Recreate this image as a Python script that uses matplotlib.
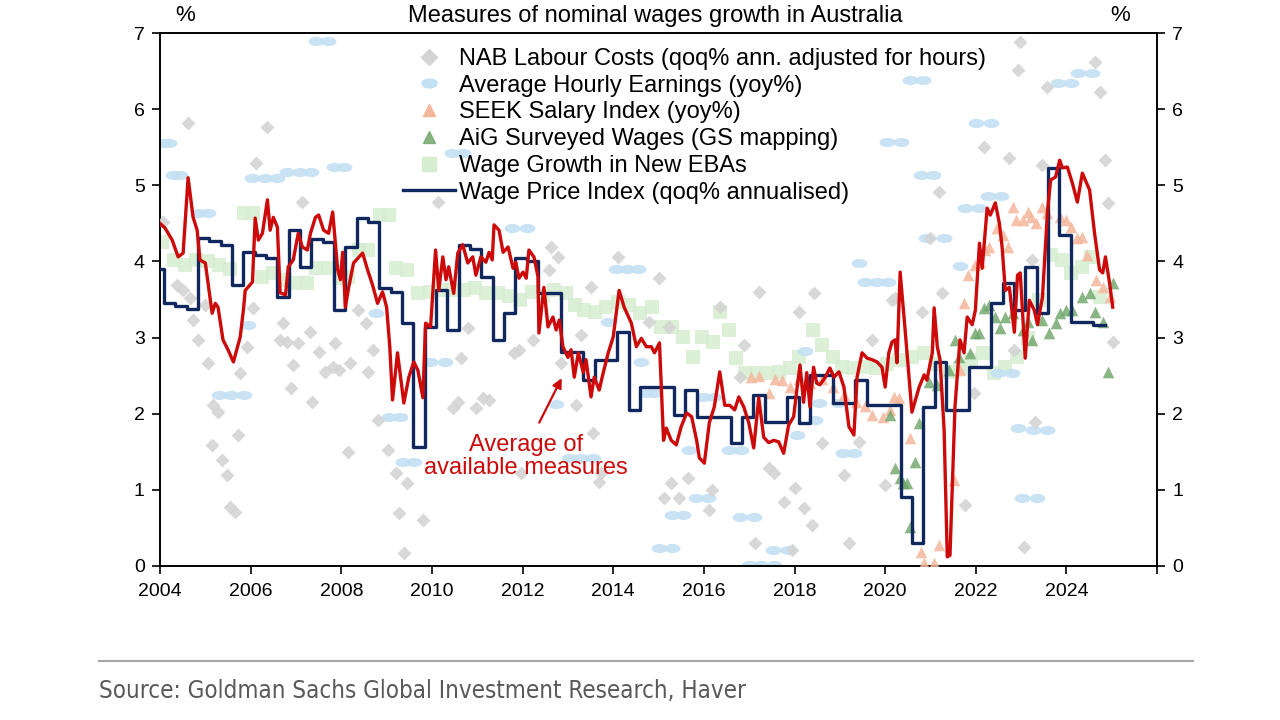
import numpy as np
import matplotlib
matplotlib.use("Agg")
import matplotlib.pyplot as plt
from matplotlib.lines import Line2D
from matplotlib.path import Path
from matplotlib.transforms import Affine2D

plt.rcParams['font.family'] = ['Liberation Sans', 'DejaVu Sans']

# Wage Price Index (qoq% annualised), quarterly, stepped
wpi_start = 2003.84
wpi_vals = [3.90, 3.45, 3.42, 3.37, 4.31, 4.27, 4.22, 3.69, 4.12, 4.08,
            4.04, 3.53, 4.41, 3.93, 4.30, 4.26, 3.36, 4.19, 4.57, 4.52,
            3.65, 3.60, 3.19, 1.56, 3.14, 3.62, 3.10, 4.22, 4.17, 3.80,
            2.97, 3.32, 4.04, 4.00, 3.58, 3.58, 2.81, 2.81, 2.44, 2.70,
            2.70, 3.07, 2.05, 2.35, 2.35, 2.35, 1.98, 2.31, 1.96, 1.96,
            1.96, 1.62, 1.96, 2.25, 1.89, 1.89, 2.22, 1.88, 2.51, 2.51,
            2.14, 2.14, 2.44, 2.11, 2.11, 2.11, 0.91, 0.30, 2.09, 2.68,
            2.05, 2.05, 2.61, 2.61, 3.45, 3.72, 3.36, 3.93, 3.32, 5.23,
            4.35, 3.20, 3.20, 3.17, 3.16]

# Average of available measures
avg_dates = [2004.00, 2004.11, 2004.27, 2004.40, 2004.51, 2004.62, 2004.73, 2004.82, 2004.88, 2005.00,
             2005.15, 2005.22, 2005.28, 2005.39, 2005.50, 2005.62, 2005.77, 2005.84, 2005.88, 2006.04,
             2006.10, 2006.17, 2006.26, 2006.37, 2006.43, 2006.50, 2006.59, 2006.65, 2006.77, 2006.83,
             2006.94, 2007.05, 2007.14, 2007.25, 2007.32, 2007.43, 2007.50, 2007.61, 2007.72, 2007.81,
             2007.92, 2007.98, 2008.03, 2008.09, 2008.16, 2008.27, 2008.47, 2008.58, 2008.69, 2008.80,
             2008.91, 2009.00, 2009.07, 2009.13, 2009.24, 2009.38, 2009.49, 2009.60, 2009.69, 2009.80,
             2009.86, 2009.97, 2010.08, 2010.15, 2010.24, 2010.31, 2010.37, 2010.48, 2010.57, 2010.68,
             2010.79, 2010.90, 2010.97, 2011.08, 2011.19, 2011.26, 2011.33, 2011.37, 2011.48, 2011.57,
             2011.68, 2011.79, 2011.85, 2011.92, 2012.01, 2012.08, 2012.14, 2012.25, 2012.34, 2012.36,
             2012.47, 2012.56, 2012.67, 2012.74, 2012.81, 2012.89, 2013.00, 2013.07, 2013.14, 2013.23,
             2013.34, 2013.40, 2013.51, 2013.58, 2013.69, 2013.78, 2013.89, 2014.00, 2014.13, 2014.24,
             2014.40, 2014.51, 2014.62, 2014.73, 2014.84, 2014.91, 2015.02, 2015.11, 2015.17, 2015.28,
             2015.39, 2015.50, 2015.62, 2015.73, 2015.84, 2015.90, 2016.01, 2016.12, 2016.23, 2016.35,
             2016.46, 2016.57, 2016.68, 2016.77, 2016.88, 2016.99, 2017.10, 2017.21, 2017.32, 2017.43,
             2017.54, 2017.65, 2017.76, 2017.87, 2017.98, 2018.05, 2018.12, 2018.20, 2018.27, 2018.34,
             2018.42, 2018.49, 2018.56, 2018.67, 2018.78, 2018.87, 2018.98, 2019.09, 2019.20, 2019.31,
             2019.38, 2019.49, 2019.60, 2019.71, 2019.82, 2019.93, 2020.00, 2020.08, 2020.15, 2020.22,
             2020.26, 2020.33, 2020.44, 2020.59, 2020.75, 2020.86, 2020.92, 2021.04, 2021.08, 2021.15,
             2021.21, 2021.30, 2021.37, 2021.43, 2021.54, 2021.65, 2021.74, 2021.81, 2021.92, 2021.99,
             2022.08, 2022.14, 2022.25, 2022.32, 2022.43, 2022.52, 2022.58, 2022.65, 2022.74, 2022.85,
             2022.92, 2022.98, 2023.09, 2023.18, 2023.29, 2023.36, 2023.47, 2023.58, 2023.65, 2023.76,
             2023.85, 2023.91, 2024.02, 2024.13, 2024.24, 2024.35, 2024.51, 2024.62, 2024.73, 2024.80,
             2024.86, 2024.95, 2025.02]
avg_vals = [4.50, 4.44, 4.28, 4.06, 4.11, 5.10, 4.58, 4.41, 4.02, 3.98,
            3.32, 3.45, 3.40, 2.97, 2.84, 2.68, 3.01, 3.36, 3.62, 3.73,
            4.57, 4.28, 4.37, 4.81, 4.41, 4.58, 4.45, 3.59, 3.56, 3.93,
            4.02, 4.37, 4.19, 4.15, 4.37, 4.58, 4.61, 4.41, 4.37, 4.65,
            3.89, 3.76, 4.12, 3.40, 3.65, 3.98, 4.11, 3.89, 3.69, 3.45,
            3.60, 3.40, 2.88, 2.18, 2.80, 2.14, 2.48, 2.68, 2.57, 2.21,
            3.19, 3.14, 4.15, 3.62, 4.06, 3.76, 3.93, 3.58, 4.11, 4.22,
            3.98, 4.06, 3.82, 4.06, 3.99, 4.12, 4.02, 4.48, 4.41, 4.12,
            4.19, 3.91, 3.99, 3.78, 3.86, 3.78, 4.15, 4.06, 3.80, 3.06,
            3.66, 3.14, 3.27, 3.10, 3.23, 2.88, 2.74, 2.84, 2.48, 2.80,
            2.54, 2.71, 2.22, 2.48, 2.31, 2.54, 2.80, 3.01, 3.62, 3.40,
            3.19, 2.88, 2.99, 2.88, 2.88, 2.80, 2.93, 1.65, 1.81, 1.65,
            1.59, 1.83, 2.01, 1.96, 1.65, 1.42, 1.35, 1.88, 2.09, 2.55,
            2.11, 2.11, 2.05, 2.22, 2.09, 1.88, 1.55, 2.21, 1.69, 1.62,
            1.65, 1.63, 1.48, 1.85, 1.96, 2.31, 2.64, 2.15, 2.54, 2.09,
            2.61, 2.40, 2.38, 2.47, 2.60, 2.48, 2.55, 2.35, 1.83, 1.72,
            2.48, 2.80, 2.73, 2.71, 2.68, 2.61, 2.35, 2.80, 2.94, 2.97,
            2.67, 3.86, 3.10, 2.02, 2.35, 2.51, 2.44, 2.80, 3.39, 2.88,
            2.71, 1.79, 0.12, 0.14, 2.09, 2.97, 2.80, 3.27, 3.17, 3.36,
            4.24, 3.91, 4.70, 4.61, 4.77, 4.50, 4.19, 3.62, 3.66, 3.07,
            3.82, 3.85, 2.73, 3.49, 3.36, 3.17, 3.53, 4.65, 5.07, 5.11,
            5.33, 5.23, 5.24, 5.03, 4.78, 5.16, 4.94, 4.37, 3.89, 3.85,
            4.06, 3.72, 3.40]

# NAB Labour Costs (qoq% ann. adjusted for hours)
nab_dates = [2004.07, 2004.38, 2004.51, 2004.62, 2004.66, 2004.73, 2004.84, 2005.00, 2005.06, 2005.15,
             2005.17, 2005.28, 2005.37, 2005.48, 2005.55, 2005.66, 2005.73, 2005.77, 2005.92, 2006.06,
             2006.12, 2006.37, 2006.65, 2006.72, 2006.81, 2006.88, 2006.94, 2007.05, 2007.14, 2007.32,
             2007.36, 2007.50, 2007.65, 2007.81, 2007.87, 2007.94, 2008.14, 2008.20, 2008.36, 2008.54,
             2008.60, 2008.71, 2008.80, 2009.04, 2009.20, 2009.27, 2009.38, 2009.46, 2009.80, 2010.13,
             2010.46, 2010.57, 2010.64, 2010.79, 2010.97, 2011.12, 2011.26, 2011.81, 2011.92, 2011.96,
             2012.23, 2012.58, 2012.63, 2012.78, 2012.85, 2013.18, 2013.29, 2013.51, 2013.56, 2013.69,
             2013.73, 2014.11, 2014.80, 2015.00, 2015.13, 2015.22, 2015.28, 2015.46, 2015.66, 2016.12,
             2016.17, 2016.35, 2016.79, 2016.88, 2017.12, 2017.21, 2017.43, 2017.54, 2017.76, 2017.94,
             2018.00, 2018.09, 2018.20, 2018.38, 2018.42, 2018.60, 2019.09, 2019.20, 2019.42, 2019.71,
             2020.00, 2020.15, 2020.22, 2020.81, 2020.99, 2021.19, 2021.26, 2021.77, 2021.96, 2022.19,
             2022.74, 2022.85, 2022.92, 2022.98, 2023.07, 2023.25, 2023.31, 2023.47, 2023.58, 2024.64,
             2024.75, 2024.84, 2024.91, 2025.02]
nab_vals = [4.52, 3.69, 3.62, 5.82, 3.52, 3.23, 2.97, 3.43, 2.67, 1.59,
            2.11, 2.02, 1.39, 1.20, 0.78, 0.71, 1.72, 2.53, 2.88, 3.39,
            5.29, 5.77, 2.97, 3.19, 2.94, 2.34, 2.64, 2.93, 4.78, 3.07,
            2.15, 2.81, 2.55, 2.61, 2.93, 2.57, 1.50, 2.67, 3.36, 3.19,
            2.55, 2.84, 1.92, 1.52, 1.22, 0.70, 0.17, 1.09, 0.60, 4.78,
            2.08, 2.15, 2.73, 3.13, 2.08, 2.20, 2.18, 2.80, 2.84, 1.22,
            2.97, 3.89, 4.19, 4.06, 2.67, 2.11, 3.03, 3.66, 1.75, 1.10,
            1.22, 4.06, 3.20, 3.78, 0.89, 3.14, 1.09, 0.89, 1.16, 0.74,
            1.00, 3.40, 2.48, 2.90, 0.30, 3.60, 1.28, 1.22, 0.84, 0.21,
            1.02, 3.34, 0.76, 0.54, 3.59, 1.62, 1.20, 0.30, 1.63, 2.97,
            1.06, 3.49, 3.52, 3.34, 4.31, 4.91, 3.59, 0.80, 2.27, 5.50,
            5.36, 2.84, 6.51, 6.88, 0.25, 4.02, 1.89, 5.27, 6.29, 6.62,
            6.23, 5.33, 4.77, 2.94]

# Average Hourly Earnings (yoy%)
ahe_dates = [2004.07, 2004.20, 2004.29, 2004.45, 2004.84, 2005.05, 2005.30, 2005.57, 2005.85, 2005.95,
             2006.04, 2006.32, 2006.58, 2006.81, 2007.08, 2007.33, 2007.45, 2007.70, 2007.83, 2008.07,
             2008.76, 2009.06, 2009.30, 2009.36, 2009.60, 2009.95, 2010.28, 2010.45, 2010.68, 2011.76,
             2012.10, 2012.74, 2013.02, 2013.29, 2013.56, 2013.89, 2014.05, 2014.30, 2014.55, 2014.62,
             2014.72, 2014.90, 2015.02, 2015.30, 2015.30, 2015.55, 2015.68, 2015.82, 2016.08, 2015.97,
             2016.22, 2016.56, 2016.82, 2016.80, 2017.10, 2017.00, 2017.27, 2017.54, 2017.52, 2017.85,
             2018.06, 2018.22, 2018.45, 2018.55, 2018.95, 2019.06, 2019.32, 2019.42, 2019.55, 2019.82,
             2020.06, 2020.03, 2020.35, 2020.55, 2020.84, 2020.78, 2021.06, 2020.90, 2021.30, 2021.65,
             2021.76, 2022.08, 2022.01, 2022.34, 2022.27, 2022.56, 2022.49, 2022.79, 2022.93, 2023.02,
             2023.34, 2023.27, 2023.56, 2023.82, 2024.10, 2024.26, 2024.56]
ahe_vals = [5.56, 5.56, 5.14, 5.14, 4.64, 4.64, 2.25, 2.25, 2.25, 3.17,
            5.10, 5.10, 5.10, 5.18, 5.18, 5.18, 6.90, 6.90, 5.24, 5.24,
            3.32, 1.96, 1.96, 1.37, 1.37, 2.68, 2.68, 5.42, 5.42, 4.44,
            4.44, 2.13, 1.42, 1.42, 1.42, 3.20, 3.90, 3.90, 3.90, 2.68,
            2.27, 2.27, 0.24, 0.24, 0.67, 0.67, 1.52, 0.89, 0.89, 2.22,
            2.22, 1.52, 1.52, 0.64, 0.64, 0.01, 0.01, 0.01, 0.21, 0.21,
            1.72, 2.82, 1.92, 2.14, 2.14, 1.48, 1.48, 3.98, 3.73, 3.73,
            3.73, 5.57, 5.57, 6.38, 6.38, 5.13, 5.13, 4.31, 4.31, 3.94,
            4.70, 4.70, 5.82, 5.82, 4.86, 4.86, 2.53, 2.53, 1.81, 0.89,
            0.89, 1.79, 1.79, 6.34, 6.34, 6.48, 6.48]

# SEEK Salary Index (yoy%)
seek_dates = [2017.05, 2017.21, 2017.43, 2017.56, 2017.72, 2017.89, 2018.10, 2018.35, 2018.60, 2018.85,
              2019.10, 2019.35, 2019.55, 2019.72, 2019.95, 2020.10, 2020.20, 2020.30, 2020.55, 2020.78,
              2020.86, 2021.07, 2021.18, 2021.51, 2021.65, 2021.74, 2021.82, 2021.98, 2022.09, 2022.20,
              2022.30, 2022.46, 2022.60, 2022.72, 2022.83, 2022.89, 2023.05, 2023.16, 2023.22, 2023.33,
              2023.45, 2023.58, 2023.85, 2024.00, 2024.11, 2024.24, 2024.35, 2024.46, 2024.66, 2024.80,
              2024.95]
seek_vals = [2.48, 2.50, 2.27, 2.45, 2.44, 2.35, 2.45, 2.40, 2.45, 2.35,
             2.25, 2.15, 2.10, 1.98, 1.96, 2.05, 2.22, 2.20, 1.68, 0.18,
             0.04, 0.04, 0.28, 1.13, 2.57, 3.45, 3.82, 3.95, 3.99, 4.15,
             4.19, 4.44, 4.35, 4.19, 4.72, 4.54, 4.54, 4.65, 4.58, 4.50,
             4.72, 4.64, 4.58, 4.54, 4.45, 4.31, 4.32, 4.08, 3.76, 3.66,
             3.53]

# AiG Surveyed Wages (GS mapping)
aig_dates = [2020.11, 2020.22, 2020.33, 2020.40, 2020.48, 2020.55, 2020.66, 2020.75, 2020.97, 2021.15,
             2021.41, 2021.54, 2021.63, 2021.88, 2021.99, 2022.08, 2022.19, 2022.30, 2022.43, 2022.54,
             2022.65, 2022.81, 2023.05, 2023.15, 2023.25, 2023.47, 2023.62, 2023.76, 2023.85, 2023.98,
             2024.13, 2024.35, 2024.51, 2024.64, 2024.80, 2024.91, 2025.02]
aig_vals = [1.98, 1.29, 1.15, 1.09, 1.09, 0.51, 1.37, 1.88, 2.42, 2.38,
            2.57, 2.97, 2.75, 2.80, 3.06, 3.06, 3.39, 3.43, 3.27, 3.13,
            3.27, 3.32, 3.10, 3.20, 2.97, 3.23, 3.06, 3.19, 3.32, 3.36,
            3.36, 3.53, 3.58, 3.34, 3.20, 2.55, 3.72]

# Wage Growth in New EBAs
eba_dates = [2004.05, 2004.30, 2004.55, 2004.80, 2005.05, 2005.30, 2005.55, 2005.85, 2006.05, 2006.25,
             2006.50, 2006.75, 2007.00, 2007.25, 2007.45, 2007.70, 2007.95, 2008.15, 2008.40, 2008.60,
             2008.85, 2009.05, 2009.20, 2009.45, 2009.70, 2009.95, 2010.20, 2010.45, 2010.70, 2010.95,
             2011.20, 2011.45, 2011.70, 2011.95, 2012.20, 2012.45, 2012.70, 2012.95, 2013.15, 2013.35,
             2013.60, 2013.85, 2014.10, 2014.35, 2014.60, 2014.85, 2015.05, 2015.30, 2015.55, 2015.75,
             2015.95, 2016.20, 2016.35, 2016.55, 2016.70, 2016.90, 2017.15, 2017.40, 2017.65, 2017.90,
             2018.10, 2018.40, 2018.60, 2018.85, 2019.05, 2019.30, 2019.55, 2019.80, 2020.05, 2020.30,
             2020.60, 2020.85, 2021.10, 2021.40, 2021.65, 2021.90, 2022.15, 2022.40, 2022.65, 2022.90,
             2023.15, 2023.40, 2023.65, 2023.90, 2024.10, 2024.35, 2024.55, 2024.75]
eba_vals = [4.25, 4.02, 3.95, 4.02, 4.00, 3.95, 3.90, 4.64, 4.64, 3.80,
            3.85, 3.75, 3.72, 3.72, 3.91, 3.91, 3.78, 3.80, 4.15, 4.15,
            4.61, 4.61, 3.91, 3.89, 3.58, 3.60, 3.62, 3.62, 3.62, 3.65,
            3.58, 3.58, 3.55, 3.50, 3.60, 3.55, 3.62, 3.58, 3.43, 3.36,
            3.34, 3.40, 3.47, 3.43, 3.32, 3.40, 3.14, 3.14, 3.01, 2.74,
            3.01, 2.94, 3.34, 3.10, 2.73, 2.53, 2.53, 2.53, 2.55, 2.60,
            2.75, 3.10, 2.90, 2.75, 2.61, 2.60, 2.61, 2.60, 2.65, 2.70,
            2.75, 2.80, 2.65, 2.55, 2.60, 2.70, 2.80, 2.53, 2.61, 2.75,
            3.00, 3.50, 4.08, 4.02, 3.85, 3.93, 4.06, 3.53]

year_ticks = list(range(2004, 2027, 2))
year_labels = [str(y) for y in range(2004, 2025, 2)]

NAVY = '#10285e'
RED = '#cc0a0a'
GRAY_D = '#d4d4d4'
BLUE_E = '#c4e0f3'
SALMON = '#f5b79c'
GREEN_T = '#6da468'
GREEN_S = '#d6edd0'

ellipse = Path.unit_circle().transformed(Affine2D().scale(1.0, 0.58))

fig = plt.figure(figsize=(12.8, 7.2), dpi=100)
ax = fig.add_axes([0.125, 0.214, 0.779, 0.740])

ax.scatter(eba_dates, eba_vals, marker='s', s=110, color=GREEN_S, alpha=0.85,
           linewidths=0, zorder=1)
ax.scatter(ahe_dates, ahe_vals, marker=ellipse, s=130, color=BLUE_E, alpha=0.9,
           linewidths=0, zorder=2)
ax.scatter(nab_dates, nab_vals, marker='D', s=50, color=GRAY_D, alpha=0.9,
           linewidths=0, zorder=3)
ax.scatter(seek_dates, seek_vals, marker='^', s=70, color=SALMON, alpha=0.85,
           linewidths=0, zorder=4)
ax.scatter(aig_dates, aig_vals, marker='^', s=70, color=GREEN_T, alpha=0.8,
           linewidths=0, zorder=5)

wpi_dates = wpi_start + 0.25 * np.arange(len(wpi_vals))
ax.plot(wpi_dates, wpi_vals, color=NAVY, lw=2.4, drawstyle='steps-post', zorder=6)
ax.plot(avg_dates, avg_vals, color=RED, lw=2.4, zorder=7)

ax.set_xlim(2004, 2026)
ax.set_ylim(0, 7)
ax.set_xticks(year_ticks)
ax.set_xticklabels(year_labels + [''])
ax.set_yticks(range(0, 8))
ax.tick_params(axis='both', direction='out', length=6, width=1.2, labelsize=14,
               colors='black')
ax.tick_params(axis='y', right=True, labelright=True, pad=5)
ax.tick_params(axis='x', pad=6)
for sp in ax.spines.values():
    sp.set_linewidth(1.4)

# annotation
ax.annotate('', xy=(2012.89, 2.50), xytext=(2012.34, 1.85),
            arrowprops=dict(arrowstyle='-|>', color=RED, lw=1.6, mutation_scale=14))
ax.text(2012.08, 1.44, 'Average of\navailable measures', color=RED, fontsize=17,
        ha='center', va='center', linespacing=1.05)

# legend
handles = [
    Line2D([], [], ls='', marker='D', ms=8, color=GRAY_D),
    Line2D([], [], ls='', marker=ellipse, ms=11, color=BLUE_E),
    Line2D([], [], ls='', marker='^', ms=9, color=SALMON),
    Line2D([], [], ls='', marker='^', ms=9, color=GREEN_T, alpha=0.8),
    Line2D([], [], ls='', marker='s', ms=10, color=GREEN_S),
    Line2D([], [], color=NAVY, lw=2.4),
]
labels = ['NAB Labour Costs (qoq% ann. adjusted for hours)',
          'Average Hourly Earnings (yoy%)',
          'SEEK Salary Index (yoy%)',
          'AiG Surveyed Wages (GS mapping)',
          'Wage Growth in New EBAs',
          'Wage Price Index (qoq% annualised)']
ax.legend(handles, labels, loc='upper left', bbox_to_anchor=(0.2435, 0.972),
          frameon=False, fontsize=17, handlelength=2.2, handletextpad=0.2,
          labelspacing=0.2, borderaxespad=0, borderpad=0)

# titles and units
fig.text(0.512, 0.978, 'Measures of nominal wages growth in Australia', ha='center',
         va='center', fontsize=17)
fig.text(0.145, 0.978, '%', ha='center', va='center', fontsize=16)
fig.text(0.875, 0.978, '%', ha='center', va='center', fontsize=16)

# source
fig.add_artist(Line2D([0.077, 0.932], [0.082, 0.082], color='#a6a6a6', lw=1.5,
                      transform=fig.transFigure))
fig.text(0.077, 0.040, 'Source: Goldman Sachs Global Investment Research, Haver',
         ha='left', va='center', fontsize=17.3, color='#595959',
         family='DejaVu Sans', stretch='condensed')

fig.savefig('out.png', dpi=100)
